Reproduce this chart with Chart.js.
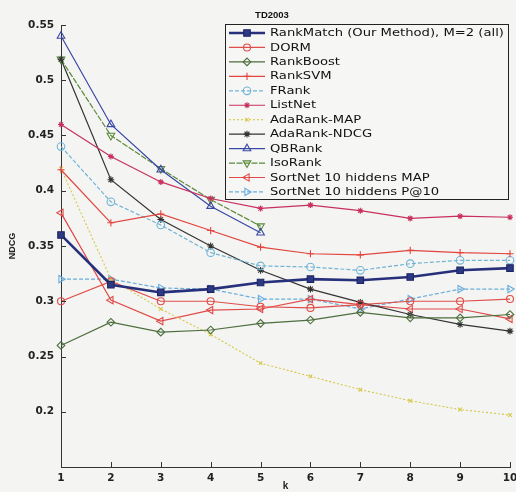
<!DOCTYPE html>
<html>
<head>
<meta charset="utf-8">
<script src="https://cdn.jsdelivr.net/npm/chart.js@4/dist/chart.umd.min.js"></script>
<style>
  html, body { margin: 0; padding: 0; background: #f4f4f2; }
  #c { display: block; }
</style>
</head>
<body>
<canvas id="c" width="516" height="492"></canvas>
<script>
// NDCG@k on TD2003 for each ranking method
const chartTitle = 'TD2003';
const kLabels = ['1', '2', '3', '4', '5', '6', '7', '8', '9', '10'];
const yTickLabels = ['0.2', '0.25', '0.3', '0.35', '0.4', '0.45', '0.5', '0.55'];

const rankMatch   = [0.360, 0.315, 0.308, 0.311, 0.317, 0.320, 0.319, 0.322, 0.328, 0.330];
const dorm        = [0.300, 0.318, 0.300, 0.300, 0.295, 0.294, 0.297, 0.300, 0.300, 0.302];
const rankBoost   = [0.260, 0.281, 0.272, 0.274, 0.280, 0.283, 0.290, 0.285, 0.285, 0.288];
const rankSVM     = [0.419, 0.371, 0.379, 0.364, 0.349, 0.343, 0.342, 0.346, 0.344, 0.343];
const fRank       = [0.440, 0.390, 0.369, 0.344, 0.332, 0.331, 0.328, 0.334, 0.337, 0.337];
const listNet     = [0.460, 0.431, 0.408, 0.393, 0.384, 0.387, 0.382, 0.375, 0.377, 0.376];
const adaRankMAP  = [0.420, 0.320, 0.293, 0.270, 0.244, 0.232, 0.220, 0.210, 0.202, 0.197];
const adaRankNDCG = [0.519, 0.410, 0.374, 0.350, 0.328, 0.311, 0.299, 0.288, 0.279, 0.273];
const qbRank      = [0.540, 0.460, 0.419, 0.386, 0.362];
const isoRank     = [0.519, 0.450, 0.420, 0.392, 0.368];
const sortNetMAP  = [0.380, 0.301, 0.282, 0.292, 0.293, 0.302, 0.297, 0.293, 0.293, 0.284];
const sortNetP10  = [0.320, 0.320, 0.312, 0.311, 0.302, 0.302, 0.293, 0.302, 0.311, 0.311];

function series(label, data, color, style, extra) {
  return Object.assign({
    label: label,
    data: data,
    borderColor: color,
    backgroundColor: color,
    borderWidth: 1.2,
    pointStyle: style,
    pointRadius: 3.5,
    pointBorderWidth: 1.1,
    pointBorderColor: color,
    pointBackgroundColor: 'rgba(0,0,0,0)',
    pointRotation: 0,
    tension: 0,
    fill: false
  }, extra || {});
}

const datasets = [
  series('RankMatch (Our Method), M=2 (all)', rankMatch, '#27307a', 'rect',
         { borderWidth: 2.6, pointRadius: 4.6, pointBackgroundColor: '#2c3a86', pointBorderColor: '#1e2560', order: 0 }),
  series('DORM', dorm, '#de4e4a', 'circle'),
  series('RankBoost', rankBoost, '#4d6e3e', 'rectRot', { pointRadius: 3.8 }),
  series('RankSVM', rankSVM, '#e2463f', 'cross', { pointRadius: 3.6 }),
  series('FRank', fRank, '#70b4d6', 'circle', { borderDash: [4, 2], pointRadius: 3.8 }),
  series('ListNet', listNet, '#c8305e', 'star', { pointRadius: 3, pointBackgroundColor: '#c8305e' }),
  series('AdaRank-MAP', adaRankMAP, '#d6c84a', 'crossRot', { borderDash: [2, 2], pointRadius: 2.6, borderWidth: 1.1 }),
  series('AdaRank-NDCG', adaRankNDCG, '#333333', 'star', { pointRadius: 3.4 }),
  series('QBRank', qbRank, '#3a48a6', 'triangle', { pointRadius: 4.4 }),
  series('IsoRank', isoRank, '#5a8a3a', 'triangle', { pointRadius: 4.4, pointRotation: 180, borderDash: [6, 1.5] }),
  series('SortNet 10 hiddens MAP', sortNetMAP, '#e04a48', 'triangle', { pointRadius: 4.2, pointRotation: -90 }),
  series('SortNet 10 hiddens P@10', sortNetP10, '#6aaedc', 'triangle', { pointRadius: 4.2, pointRotation: 90, borderDash: [4, 2] })
];

const tickFont = { family: 'DejaVu Sans', size: 10.5, weight: 'bold' };

// Ticks pointing into the plot, MATLAB style
const innerTicks = {
  id: 'innerTicks',
  afterDraw(chart) {
    const ctx = chart.ctx;
    const area = chart.chartArea;
    const xs = chart.scales.x, ys = chart.scales.y;
    ctx.save();
    ctx.strokeStyle = '#333';
    ctx.lineWidth = 1;
    ys.ticks.forEach((t, i) => {
      const y = Math.round(ys.getPixelForTick(i)) + 0.5;
      ctx.beginPath(); ctx.moveTo(area.left, y); ctx.lineTo(area.left + 5, y); ctx.stroke();
    });
    xs.ticks.forEach((t, i) => {
      const x = Math.round(xs.getPixelForTick(i)) + 0.5;
      ctx.beginPath(); ctx.moveTo(x, area.bottom); ctx.lineTo(x, area.bottom - 5); ctx.stroke();
    });
    ctx.restore();
  }
};

// Boxed legend inside the plot plus the title above it
const boxLegend = {
  id: 'boxLegend',
  afterDraw(chart) {
    const ctx = chart.ctx;
    const box = { left: 225.5, top: 24.5, right: 508.5, bottom: 199.5 };
    const rowTop = 33, rowStep = 14.45;
    const lineX0 = 229, lineX1 = 265, textX = 270;
    ctx.save();

    ctx.fillStyle = '#111';
    ctx.font = 'bold 9.5px "Liberation Sans"';
    ctx.textAlign = 'center';
    ctx.textBaseline = 'middle';
    ctx.fillText(chartTitle, 272, 15);

    ctx.fillStyle = '#f6f6f4';
    ctx.fillRect(box.left, box.top, box.right - box.left, box.bottom - box.top);
    ctx.strokeStyle = '#222';
    ctx.lineWidth = 1;
    ctx.strokeRect(box.left, box.top, box.right - box.left, box.bottom - box.top);

    ctx.font = '10px "DejaVu Sans"';
    const longest = Math.max(...chart.data.datasets.map(d => ctx.measureText(d.label).width));
    const stretch = 234 / longest;

    chart.data.datasets.forEach((ds, i) => {
      const y = rowTop + i * rowStep;
      ctx.save();
      ctx.strokeStyle = ds.borderColor;
      ctx.lineWidth = ds.borderWidth;
      ctx.setLineDash(ds.borderDash || []);
      ctx.beginPath(); ctx.moveTo(lineX0, y); ctx.lineTo(lineX1, y); ctx.stroke();
      ctx.setLineDash([]);
      ctx.strokeStyle = ds.pointBorderColor;
      ctx.fillStyle = ds.pointBackgroundColor;
      ctx.lineWidth = ds.pointBorderWidth;
      Chart.helpers.drawPoint(ctx, {
        pointStyle: ds.pointStyle, rotation: ds.pointRotation,
        radius: ds.pointRadius, borderWidth: ds.pointBorderWidth
      }, (lineX0 + lineX1) / 2, y);
      ctx.restore();

      ctx.save();
      ctx.fillStyle = '#111';
      ctx.textAlign = 'left';
      ctx.textBaseline = 'middle';
      ctx.translate(textX, y + 0.5);
      ctx.scale(stretch, 1);
      ctx.fillText(ds.label, 0, 0);
      ctx.restore();
    });
    ctx.restore();
  }
};

new Chart(document.getElementById('c'), {
  type: 'line',
  data: { labels: kLabels, datasets: datasets },
  options: {
    responsive: false,
    devicePixelRatio: 1,
    animation: false,
    layout: { padding: { top: 25, right: 6, bottom: 0, left: 0 } },
    plugins: { legend: { display: false }, tooltip: { enabled: false }, title: { display: false } },
    scales: {
      x: {
        type: 'category',
        offset: false,
        grid: { display: true, drawOnChartArea: false, drawTicks: false },
        border: { display: true, color: '#333', width: 1 },
        ticks: { color: '#222', font: tickFont, padding: 5, maxRotation: 0, autoSkip: false },
        title: { display: true, text: 'k', color: '#222',
                 font: { family: 'Liberation Sans', size: 10, weight: 'bold', lineHeight: 1.2 },
                 padding: { top: 0, bottom: 0 } },
        afterFit(s) { s.height = 25; s.paddingLeft = 0; s.paddingRight = 0; }
      },
      y: {
        min: 0.15,
        max: 0.55,
        grid: { display: true, drawOnChartArea: false, drawTicks: false },
        border: { display: true, color: '#333', width: 1 },
        ticks: {
          stepSize: 0.05,
          color: '#222',
          font: tickFont,
          padding: 7,
          callback(v) {
            const hit = yTickLabels.find(s => Math.abs(parseFloat(s) - v) < 1e-6);
            return hit || '';
          }
        },
        title: { display: true, text: 'NDCG', color: '#222',
                 font: { family: 'Liberation Sans', size: 9, weight: 'bold', lineHeight: 1.2 },
                 padding: { top: 7, bottom: 0 } },
        afterFit(s) { s.width = 61; s.paddingTop = 0; s.paddingBottom = 0; }
      }
    }
  },
  plugins: [innerTicks, boxLegend]
});
</script>
</body>
</html>
